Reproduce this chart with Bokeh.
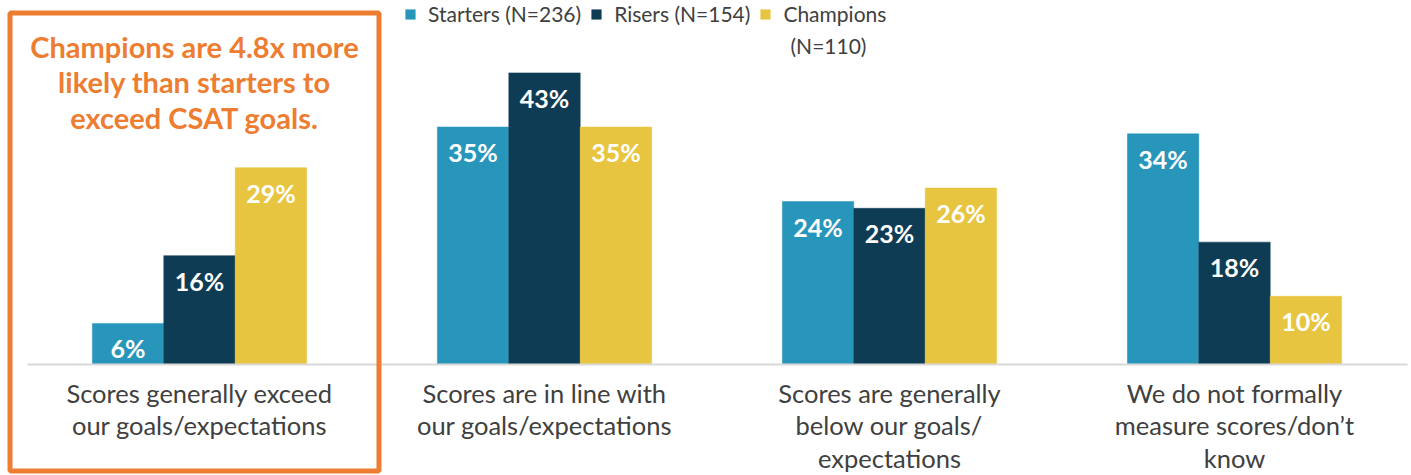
import numpy as np
from bokeh.plotting import figure
from bokeh.models import (Range1d, LinearAxis, FixedTicker, Legend, LegendItem,
                          BoxAnnotation, Label, ColumnDataSource)
from bokeh.core.properties import value
from bokeh.embed import file_html
from bokeh.resources import INLINE

categories = [
    "Scores generally exceed\nour goals/expectations",
    "Scores are in line with\nour goals/expectations",
    "Scores are generally\nbelow our goals/\nexpectations",
    "We do not formally\nmeasure scores/don\u2019t\nknow",
]
series = ["Starters (N=236)", "Risers (N=154)", "Champions"]
series_note = "(N=110)"
starters = [6, 35, 24, 34]
risers = [16, 43, 23, 18]
champions = [29, 35, 26, 10]
colors = ["#2896BA", "#0F3C55", "#E8C540"]
callout = "Champions are 4.8x more\nlikely than starters to\nexceed CSAT goals."

W, H = 1411, 475
FONT = "Lato"
TEXT_GRAY = "#404040"
ORANGE = "#ED7D31"

px_per_cat = 345.0
first_center = 199.0
baseline_px = 363.5
px_per_pct = 6.77

p = figure(width=W, height=H, output_backend="svg", toolbar_location=None,
           x_range=Range1d(-first_center / px_per_cat, (W - first_center) / px_per_cat),
           y_range=Range1d(-(H - baseline_px) / px_per_pct, baseline_px / px_per_pct),
           x_axis_location=None, y_axis_location=None,
           min_border=0, min_border_left=0, min_border_right=0,
           min_border_top=0, min_border_bottom=0)
p.outline_line_color = None
p.xgrid.visible = False
p.ygrid.visible = False
p.background_fill_color = "white"
p.border_fill_color = "white"

base = np.arange(len(categories))
bw = 0.207
offsets = [-bw, 0.0, bw]
all_vals = [starters, risers, champions]

renderers = []
for vals, off, col in zip(all_vals, offsets, colors):
    src = ColumnDataSource(dict(x=base + off, top=vals, lab=[f"{v}%" for v in vals]))
    r = p.vbar(x="x", top="top", bottom=0, width=bw, source=src,
               fill_color=col, line_color=col, line_width=0.5)
    renderers.append(r)
    p.text(x="x", y="top", text="lab", source=src, y_offset=25,
           text_align="center", text_baseline="middle",
           text_font=value(FONT), text_font_style="bold",
           text_font_size="25px", text_color="white")

xaxis = LinearAxis(fixed_location=0, ticker=FixedTicker(ticks=list(base)))
xaxis.bounds = (-0.5, len(categories) - 0.5)
xaxis.major_label_overrides = {int(i): c for i, c in zip(base, categories)}
xaxis.axis_line_color = "#D9D9D9"
xaxis.axis_line_width = 2
xaxis.major_tick_line_color = None
xaxis.minor_tick_line_color = None
xaxis.major_label_text_font = FONT
xaxis.major_label_text_font_size = "25.5px"
xaxis.major_label_text_color = TEXT_GRAY
xaxis.major_label_text_line_height = 1.08
xaxis.major_label_standoff = 8
p.add_layout(xaxis, "below")

legend = Legend(items=[LegendItem(label=s, renderers=[r]) for s, r in zip(series, renderers)],
                orientation="horizontal", location=(404, H - 26),
                glyph_width=12, glyph_height=12, label_standoff=12, spacing=9,
                padding=0, margin=0, border_line_color=None,
                background_fill_alpha=0,
                label_text_font=FONT, label_text_font_size="21px",
                label_text_color=TEXT_GRAY)
p.add_layout(legend)

note = Label(x=790, y=H - 45, x_units="screen", y_units="screen", text=series_note,
             text_align="left", text_baseline="middle",
             text_font=FONT, text_font_size="21px", text_color=TEXT_GRAY)
p.add_layout(note)

box = BoxAnnotation(left=9.5, right=378.5, top=H - 12.5, bottom=4.5,
                    left_units="screen", right_units="screen",
                    top_units="screen", bottom_units="screen",
                    fill_alpha=0, line_color=ORANGE, line_alpha=1.0, line_width=5)
p.add_layout(box)

title = Label(x=194, y=H - 28, x_units="screen", y_units="screen", text=callout,
              text_align="center", text_baseline="top",
              text_font=FONT, text_font_style="bold", text_font_size="29px",
              text_color=ORANGE, text_line_height=1.02)
p.add_layout(title)

open("out.html", "w").write(file_html(p, INLINE))
